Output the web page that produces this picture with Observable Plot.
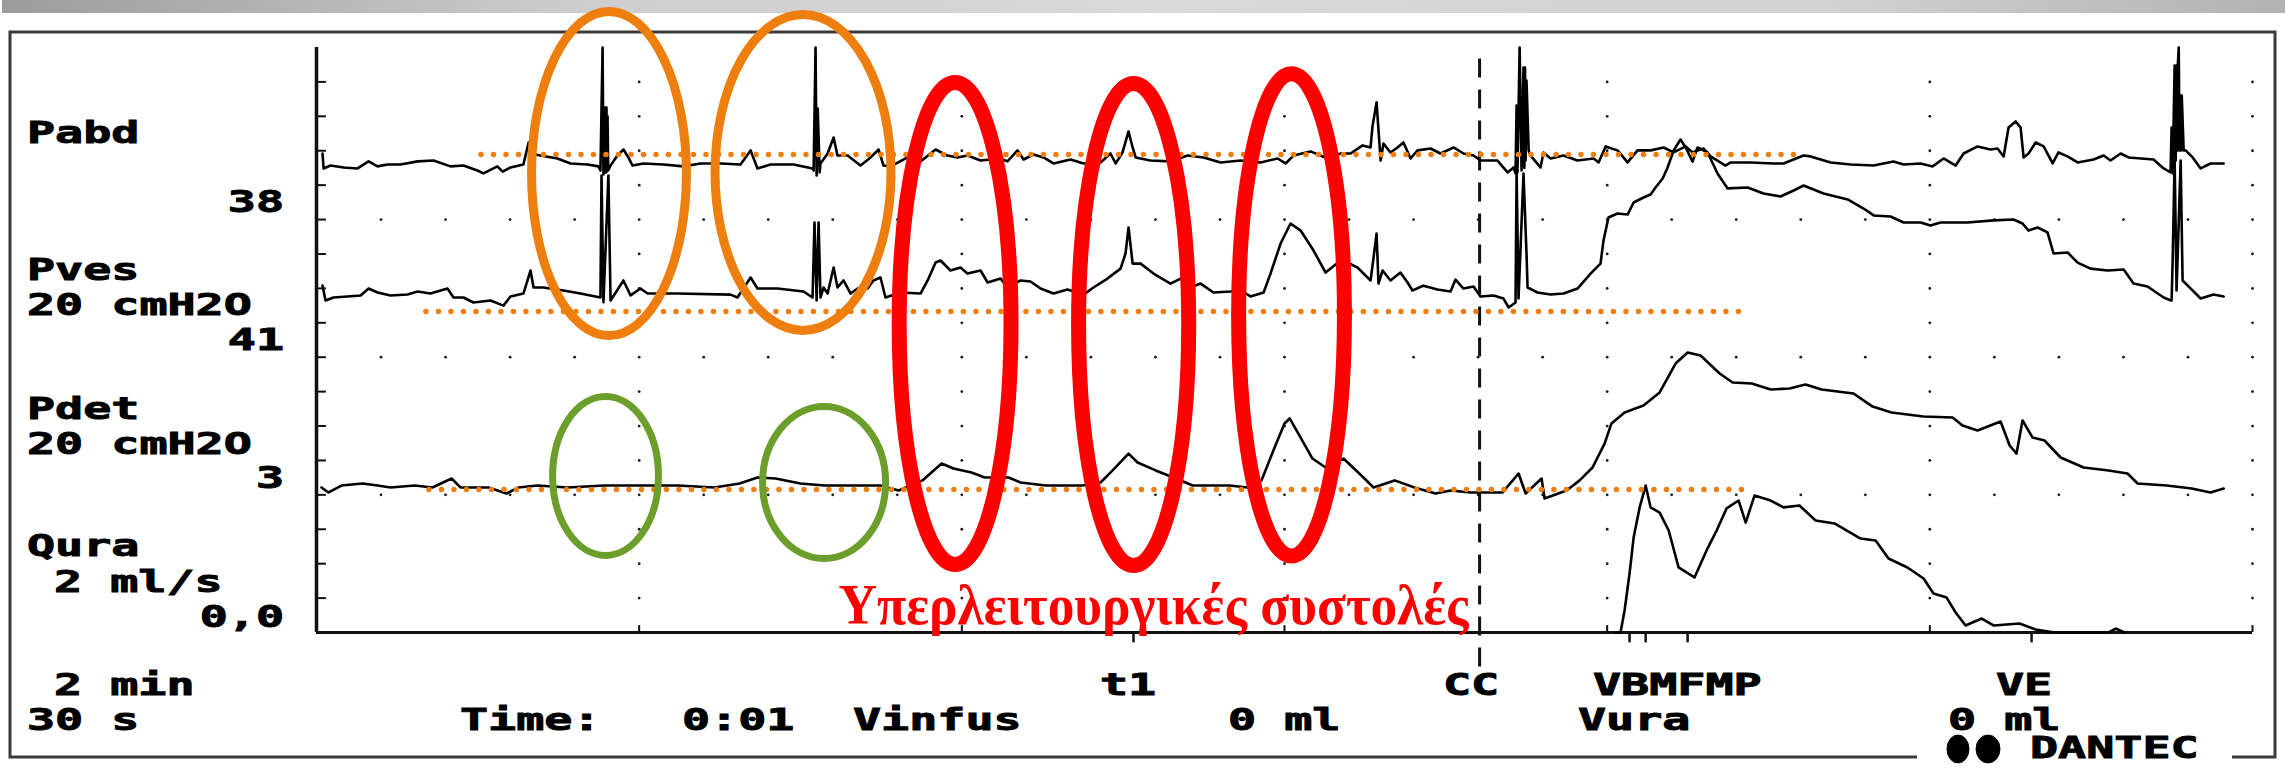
<!DOCTYPE html>
<html><head><meta charset="utf-8">
<script src="https://cdn.jsdelivr.net/npm/d3@7"></script>
<script src="https://cdn.jsdelivr.net/npm/@observablehq/plot@0.6"></script>
<style>
html,body{margin:0;padding:0;background:#fff;overflow:hidden;}
#chart{position:relative;width:2285px;height:768px;}
</style></head><body><div id="chart"></div>
<script>
// ---------- DATA (time in s, pressures in cmH2O, flow in ml/s) ----------
const pabdSeries = [[2.8,38.4],[3.3,29.7],[6.5,31.4],[12.6,30.3],[19.1,29.7],[24.2,33.8],[28.4,30.9],[33.0,32.0],[39.1,32.0],[47.0,33.8],[54.4,34.3],[62.3,30.9],[68.3,31.4],[74.8,28.5],[77.6,26.8],[84.1,30.9],[86.5,27.9],[90.2,30.3],[96.2,32.0],[98.6,44.8],[99.5,38.4],[104.1,37.2],[112.0,35.5],[118.1,32.6],[126.0,32.0],[131.1,30.9],[132.0,28.5],[133.0,100],[133.4,26.2],[133.9,65.1],[134.2,27.4],[134.4,65.1],[134.6,27.4],[134.8,65.1],[135.0,28.0],[135.3,60.0],[135.6,28.5],[136.7,31.4],[139.9,37.2],[142.7,40.7],[145.0,36.1],[146.9,31.4],[152.0,32.6],[161.3,32.0],[170.6,30.9],[178.5,32.6],[187.8,32.6],[197.1,32.0],[201.8,40.2],[205.0,29.7],[211.1,32.0],[221.8,32.0],[230.6,29.7],[231.1,28.5],[232.0,100],[232.5,25.6],[233.0,64.5],[233.9,27.4],[234.3,32.6],[237.6,38.4],[240.4,47.7],[242.2,37.2],[246.9,37.2],[252.9,31.4],[257.6,36.1],[261.3,40.7],[263.6,31.4],[266.9,30.9],[274.8,36.1],[280.8,33.8],[287.8,40.7],[293.3,37.2],[298.0,36.1],[302.6,37.2],[308.7,34.3],[318.0,35.5],[321.2,33.8],[325.9,40.2],[328.7,34.9],[333.3,37.8],[338.0,36.1],[342.6,32.6],[350.5,34.9],[356.6,32.6],[364.5,33.2],[369.1,38.4],[371.5,32.6],[374.7,39.0],[377.5,51.2],[379.4,41.9],[380.8,36.1],[387.7,34.3],[397.0,33.8],[404.9,37.2],[412.4,36.1],[420.3,33.2],[429.6,34.3],[438.9,33.2],[446.8,35.5],[450.5,32.6],[454.2,37.2],[462.1,39.6],[470.0,35.5],[476.1,38.4],[480.7,38.4],[486.3,43.1],[490.0,41.9],[490.9,54.1],[492.8,68.1],[493.7,51.8],[494.7,34.3],[496.0,44.2],[499.3,39.0],[502.5,41.9],[505.3,44.8],[508.6,35.5],[511.9,40.2],[517.9,41.3],[522.5,38.4],[528.6,41.9],[533.2,38.4],[537.9,37.2],[541.1,34.3],[549.0,34.3],[553.7,27.4],[556.5,30.3],[557.4,26.8],[557.9,66.3],[558.3,27.4],[559.3,100],[560.2,28.5],[561.1,88.4],[561.5,30.0],[561.8,88.4],[562.1,34.3],[562.5,80.8],[563.5,40.2],[564.4,37.2],[569.0,30.3],[570.4,39.0],[573.7,35.5],[579.7,37.2],[586.2,34.3],[593.7,35.5],[596.0,33.2],[599.3,42.5],[604.8,40.2],[609.5,33.2],[614.1,40.2],[620.2,40.2],[626.2,41.9],[630.9,39.0],[636.5,42.5],[639.7,39.0],[642.0,40.2],[644.8,41.3],[648.1,36.7],[655.0,31.4],[657.4,33.2],[666.7,33.2],[677.4,32.6],[682.0,32.6],[691.3,37.2],[694.6,36.7],[703.9,33.2],[713.2,32.0],[723.9,31.4],[733.1,33.8],[737.8,32.0],[745.7,32.6],[751.3,30.9],[756.4,35.5],[762.0,31.4],[765.7,38.4],[772.2,42.5],[778.2,40.7],[781.5,41.3],[784.3,36.7],[786.6,53.5],[789.9,57.0],[792.2,53.5],[793.6,36.1],[795.9,38.4],[799.2,44.8],[802.9,42.5],[807.1,32.6],[809.8,39.0],[814.0,36.7],[818.7,33.2],[826.1,34.9],[830.8,37.2],[834.0,34.3],[838.7,38.4],[842.4,36.1],[854.0,34.9],[858.7,29.7],[861.9,27.4],[862.4,53.5],[862.9,26.8],[863.8,89.5],[864.3,34.3],[864.7,89.5],[865.0,40.0],[865.3,89.5],[865.7,100],[866.1,40.2],[866.6,72.1],[866.9,40.2],[867.1,72.1],[868.0,40.2],[868.9,40.2],[872.2,36.1],[875.9,29.7],[880.5,32.6],[886.6,32.6]];

const pvesSeries = [[2.8,41.6],[4.2,33.0],[7.9,34.7],[14.4,35.3],[20.5,35.9],[24.2,39.9],[28.4,37.6],[34.4,35.9],[42.3,36.4],[47.0,38.2],[53.0,37.0],[60.9,39.9],[63.7,34.7],[68.3,34.7],[73.0,31.8],[80.9,33.0],[86.9,30.0],[90.2,35.3],[96.2,37.0],[98.1,44.6],[99.5,50.4],[100.9,40.5],[105.5,40.5],[114.8,38.8],[122.7,37.0],[132.0,34.7],[132.5,105.6],[133.4,32.0],[135.7,105.6],[136.7,33.0],[137.6,34.7],[142.7,44.6],[146.0,35.9],[150.6,39.9],[153.9,37.0],[167.8,37.0],[192.5,36.4],[195.7,34.7],[201.8,46.3],[205.0,39.9],[214.3,39.9],[226.4,38.2],[230.6,34.7],[231.5,78.3],[232.5,33.0],[233.4,78.3],[234.3,34.7],[235.7,40.5],[237.6,37.0],[240.4,52.1],[242.2,40.5],[245.0,44.6],[248.3,37.0],[251.5,39.9],[256.2,39.9],[258.9,44.6],[262.2,46.3],[264.5,34.7],[271.5,37.6],[280.8,37.0],[284.1,44.6],[287.8,55.0],[290.1,56.2],[294.7,50.4],[299.4,52.1],[302.6,48.6],[308.7,50.4],[312.0,43.4],[318.0,45.7],[321.2,40.5],[327.3,44.6],[331.9,44.0],[336.6,39.9],[342.6,37.0],[349.1,39.3],[356.6,36.4],[361.2,40.5],[367.7,45.7],[373.8,51.5],[376.1,60.3],[377.5,75.4],[379.4,54.4],[383.1,54.4],[389.1,48.6],[397.0,42.8],[401.7,45.7],[406.3,40.5],[411.0,42.8],[417.0,37.6],[424.9,38.2],[429.6,38.8],[434.2,35.3],[440.3,37.6],[443.5,48.6],[448.2,66.1],[452.8,77.7],[457.5,73.6],[463.5,62.0],[469.1,49.2],[476.1,56.2],[477.4,56.2],[484.0,52.1],[490.0,44.6],[491.4,57.9],[492.8,71.9],[493.7,42.8],[495.6,50.4],[499.3,44.6],[503.9,49.2],[507.2,43.4],[509.5,38.8],[514.6,41.6],[521.1,39.3],[527.2,38.2],[529.5,45.1],[533.2,39.9],[537.9,41.1],[541.1,35.3],[547.2,35.9],[551.8,34.1],[554.2,28.9],[557.4,31.8],[557.9,106.8],[558.8,34.1],[561.1,106.8],[562.5,60.3],[563.0,40.5],[567.6,37.6],[573.7,36.4],[579.7,37.0],[586.2,39.9],[592.3,48.6],[596.9,54.4],[598.3,67.8],[600.6,81.2],[604.8,83.5],[609.5,82.9],[612.3,89.9],[616.9,92.8],[620.2,94.6],[622.5,98.6],[625.8,103.9],[628.1,110.3],[630.9,120.1],[634.1,126.5],[636.5,121.9],[639.7,113.7],[642.0,121.9],[646.7,119.0],[651.3,106.8],[656.0,98.1],[665.3,98.6],[672.7,95.1],[680.6,93.4],[686.7,96.9],[691.3,99.8],[700.6,95.1],[711.8,91.7],[719.2,86.4],[723.9,82.4],[731.7,81.8],[737.8,78.3],[745.7,78.3],[750.3,76.5],[755.0,78.3],[767.6,78.3],[779.6,79.5],[788.9,80.0],[793.1,77.7],[795.9,73.6],[800.1,75.4],[804.7,72.5],[807.5,60.3],[814.0,60.9],[818.7,55.0],[824.7,51.5],[832.6,50.4],[840.1,51.0],[844.7,42.8],[851.2,41.1],[858.7,34.7],[861.9,33.0],[862.4,33.0],[862.9,57.4],[863.8,114.3],[864.7,38.8],[866.6,114.3],[867.5,44.6],[871.3,39.9],[875.9,34.1],[881.9,36.4],[886.6,35.3]];

const pdetSeries = [[2.3,4.3],[5.6,1.4],[11.6,5.4],[21.4,6.6],[28.4,5.4],[34.4,4.3],[45.6,5.4],[53.9,4.3],[62.8,9.5],[66.9,4.3],[80.0,4.3],[88.3,0.8],[93.9,4.3],[102.7,5.4],[116.7,4.3],[133.9,5.4],[151.1,5.4],[167.8,5.4],[185.0,4.3],[196.7,6.6],[205.0,10.1],[213.4,9.5],[225.0,6.6],[236.2,5.4],[247.8,5.4],[262.2,5.4],[270.6,2.5],[281.7,8.4],[290.6,18.2],[296.1,15.3],[304.5,13.0],[310.6,10.1],[321.7,10.1],[327.3,7.2],[338.9,5.4],[356.1,5.4],[364.5,7.2],[370.1,14.2],[377.5,24.0],[381.7,18.8],[390.1,14.2],[398.4,10.1],[407.3,5.4],[424.5,5.4],[432.8,4.3],[439.3,8.4],[445.4,27.5],[450.0,41.5],[452.4,44.4],[457.5,33.3],[463.0,21.1],[469.1,15.9],[477.4,21.1],[486.7,10.1],[491.4,4.3],[501.2,8.4],[510.4,4.3],[520.2,0.8],[527.2,2.5],[536.5,1.4],[551.4,1.4],[558.8,12.4],[562.1,0.8],[569.5,9.5],[570.9,-2.1],[581.1,2.5],[587.2,8.4],[593.2,15.9],[598.8,29.8],[602.0,41.5],[608.1,47.9],[616.9,51.9],[624.4,59.5],[631.8,76.3],[637.4,82.7],[643.4,81.0],[652.3,70.5],[658.3,65.3],[667.2,64.7],[676.0,61.2],[684.8,61.8],[692.2,64.1],[699.7,61.2],[714.5,58.9],[723.4,51.3],[732.2,47.9],[747.1,45.5],[760.6,45.0],[765.2,40.3],[772.2,37.4],[782.9,42.6],[787.1,28.7],[790.3,24.0],[793.1,43.2],[797.8,33.3],[803.3,31.6],[810.8,21.7],[821.5,15.9],[833.1,14.2],[841.9,12.4],[846.6,6.6],[860.1,5.4],[871.7,3.7],[880.5,1.4],[886.6,3.7]];

const quraSeries = [[603.9,0],[606.2,0],[608.1,1.28],[610.4,3.43],[612.3,5.52],[615.1,7.27],[617.9,8.54],[620.2,7.27],[624.4,6.97],[628.6,5.93],[633.2,3.78],[640.6,3.2],[646.2,4.77],[650.9,5.93],[655.5,7.21],[661.1,7.67],[664.4,6.39],[668.5,7.96],[676.0,7.67],[682.0,7.27],[689.4,7.38],[696.9,6.51],[705.7,6.34],[717.8,5.46],[724.8,5.35],[730.8,4.30],[739.6,3.78],[747.1,3.14],[751.7,2.27],[757.8,2.03],[762.0,1.16],[766.6,0.41],[774.1,0.81],[779.6,0.41],[791.7,0.52],[799.2,0.17],[808.0,0],[833.1,0],[836.4,0.23],[840.5,0]];

const channelNames = ["Pabd", "Pves", "Pdet", "Qura"];
const channelUnits = ["", "20 cmH2O", "20 cmH2O", "2 ml/s"];
const channelReadouts = ["38", "41", "3", "0,0"];
const eventNames = ["t1", "V", "B", "MF", "VE"];
const eventTimes = [379.8, 610.4, 617.9, 637.4, 797.3];
const ccTime = 540.7;
const baselineChannels = ["Pabd", "Pves", "Pdet"];
const baselineValues = [37.8, 26.6, 3.1];
const baselineStart = [76.7, 51.1, 52.5];
const baselineEnd = [691.3, 663.4, 666.7];
const annotationText = "Υπερλειτουργικές συστολές";

// ---------- display stacking ----------
const offsets = {Pabd: 240, Pves: 160, Pdet: 80, Qura: 0};
const gain = {Pabd: 1, Pves: 1, Pdet: 1, Qura: 10};
const ORANGE = "#EE7E0E", RED = "#FF0000", GREEN = "#6B9E2B";

const traces = [];
[[pabdSeries,"Pabd"],[pvesSeries,"Pves"],[pdetSeries,"Pdet"],[quraSeries,"Qura"]].forEach(([s, ch]) => {
  s.forEach(([t, v]) => traces.push({t, v, ch, y: offsets[ch] + v * gain[ch]}));
});
const baselines = baselineChannels.map((ch, i) => ({
  ch, y: offsets[ch] + baselineValues[i], t1: baselineStart[i], t2: baselineEnd[i]
}));

const rowVals = d3.range(1, 17).map(k => k * 20);
const colVals = d3.range(1, 31).map(j => j * 30);
const fullRows = [80, 160, 240];
const gridPts = [];
colVals.forEach(t => rowVals.forEach(d => {
  if (fullRows.includes(d) || t % 150 === 0) gridPts.push({t, d});
}));
const majorCols = colVals.filter(t => t % 150 === 0);

const plot = Plot.plot({
  width: 2285, height: 768,
  marginLeft: 316, marginRight: 33, marginTop: 47, marginBottom: 136,
  x: {domain: [0, 900], axis: null},
  y: {domain: [0, 340], axis: null},
  style: {background: "transparent"},
  marks: [
    Plot.dot(gridPts, {x: "t", y: "d", r: 1.4, fill: "#1a1a1a", stroke: "none"}),
    Plot.ruleY(rowVals, {x1: 0, x2: 4.6, stroke: "#111", strokeWidth: 2}),
    Plot.ruleX(majorCols, {y1: 0, y2: 4, stroke: "#111", strokeWidth: 2}),
    Plot.ruleX(eventTimes, {y1: 0, y2: -6, stroke: "#111", strokeWidth: 2.5}),
    Plot.ruleX([ccTime], {y1: -20, y2: 340, stroke: "#111", strokeWidth: 3, strokeDasharray: "19 12"}),
    Plot.ruleX([0], {y1: 0, y2: 340, stroke: "#111", strokeWidth: 3.5}),
    Plot.ruleY([0], {x1: 0, x2: 900, stroke: "#111", strokeWidth: 3}),
    Plot.line(traces, {x: "t", y: "y", z: "ch", stroke: "#000", strokeWidth: 2.6, strokeLinejoin: "round"}),
    Plot.ruleY(baselines, {y: "y", x1: "t1", x2: "t2", stroke: ORANGE, strokeWidth: 5.5, strokeDasharray: "0 12.5", strokeLinecap: "round"}),
    Plot.text([annotationText], {x: 242.7, y: 5.2, text: d => d, textAnchor: "start", lineAnchor: "bottom",
      fill: RED, fontSize: 56, fontWeight: "bold", fontFamily: "'Liberation Serif','Times New Roman',serif"})
  ]
});
document.getElementById("chart").appendChild(plot);

// ---------- annotations & frame text ----------
const svg = d3.select(plot);
const xs = plot.scale("x"), ys = plot.scale("y");

// background decorations (bar + border)
const defs = svg.insert("defs", ":first-child");
const grad = defs.append("linearGradient").attr("id", "topbar").attr("x1", 0).attr("x2", 1).attr("y1", 0).attr("y2", 0);
[[0, "#9c9c9c"], [0.25, "#cdcdcd"], [0.5, "#d9d9d9"], [0.8, "#d2d2d2"], [1, "#b2b2b2"]]
  .forEach(([o, c]) => grad.append("stop").attr("offset", o).attr("stop-color", c));
const bg = svg.insert("g", "defs + *");
bg.append("rect").attr("x", 2).attr("y", 0).attr("width", 2283).attr("height", 13).attr("fill", "url(#topbar)");
bg.append("path").attr("d", "M1917,757 H10 V32 H2275 V757 H2232")
  .attr("fill", "none").attr("stroke", "#3a3a3a").attr("stroke-width", 3);

// ellipses around events
const ellipses = [
  {t: 136.2, v: 266.5, rt: 36.0, rv: 94.2, c: ORANGE, w: 9},
  {t: 226.4, v: 267.1, rt: 40.9, rv: 91.8, c: ORANGE, w: 9},
  {t: 297.1, v: 179.3, rt: 26.0, rv: 140.1, c: RED, w: 15},
  {t: 380.1, v: 178.7, rt: 25.6, rv: 140.1, c: RED, w: 15},
  {t: 453.5, v: 184.3, rt: 24.6, rv: 140.1, c: RED, w: 15},
  {t: 134.6, v: 90.7, rt: 24.6, rv: 46.2, c: GREEN, w: 7},
  {t: 236.2, v: 86.9, rt: 28.6, rv: 44.2, c: GREEN, w: 7}
];
const eg = svg.append("g");
ellipses.forEach(e => {
  eg.append("ellipse")
    .attr("cx", xs.apply(e.t)).attr("cy", ys.apply(e.v))
    .attr("rx", xs.apply(e.t + e.rt) - xs.apply(e.t))
    .attr("ry", ys.apply(e.v) - ys.apply(e.v + e.rv))
    .attr("fill", "none").attr("stroke", e.c).attr("stroke-width", e.w);
});

// stretch the red annotation to its width
svg.selectAll("text").filter(function() { return this.textContent === annotationText; })
  .attr("textLength", 630).attr("lengthAdjust", "spacingAndGlyphs");

// frame labels (DOS-style monospace)
const frameLabels = [
  [channelNames[0], 27, 143, "start"], [channelReadouts[0], 284, 212, "end"],
  [channelNames[1], 27, 280, "start"], [channelUnits[1], 27, 315, "start"], [channelReadouts[1], 284, 350, "end"],
  [channelNames[2], 27, 419, "start"], [channelUnits[2], 27, 454, "start"], [channelReadouts[2], 284, 488, "end"],
  [channelNames[3], 27, 556, "start"], [channelUnits[3], 54, 592, "start"], [channelReadouts[3], 284, 627, "end"],
  ["2 min", 54, 695, "start"], ["30 s", 27, 730, "start"],
  ["Time:", 460, 730, "start"], ["0:01", 682, 730, "start"], ["Vinfus", 853, 730, "start"], ["0 ml", 1228, 730, "start"],
  [eventNames[0], 1100, 695, "start"], ["CC", 1443, 695, "start"], ["VBMFMP", 1593, 695, "start"],
  ["Vura", 1578, 730, "start"], [eventNames[4], 1996, 695, "start"], ["0 ml", 1948, 730, "start"],
  ["DANTEC", 2030, 758, "start"]
];
const lg = svg.append("g").attr("font-family", "'DejaVu Sans Mono','Liberation Mono',monospace")
  .attr("font-weight", "bold").attr("font-size", 30).attr("fill", "#000")
  .attr("stroke", "#000").attr("stroke-width", 0.9);
frameLabels.forEach(([s, x, y, a]) => {
  lg.append("text").attr("x", x).attr("y", y).attr("text-anchor", a)
    .attr("textLength", s.length * 28.1).attr("lengthAdjust", "spacingAndGlyphs").text(s);
});
// DANTEC logo
lg.append("ellipse").attr("cx", 1958).attr("cy", 749).attr("rx", 11).attr("ry", 14).attr("fill", "#000");
lg.append("ellipse").attr("cx", 1988).attr("cy", 749).attr("rx", 12).attr("ry", 14).attr("fill", "#000");
</script></body></html>
